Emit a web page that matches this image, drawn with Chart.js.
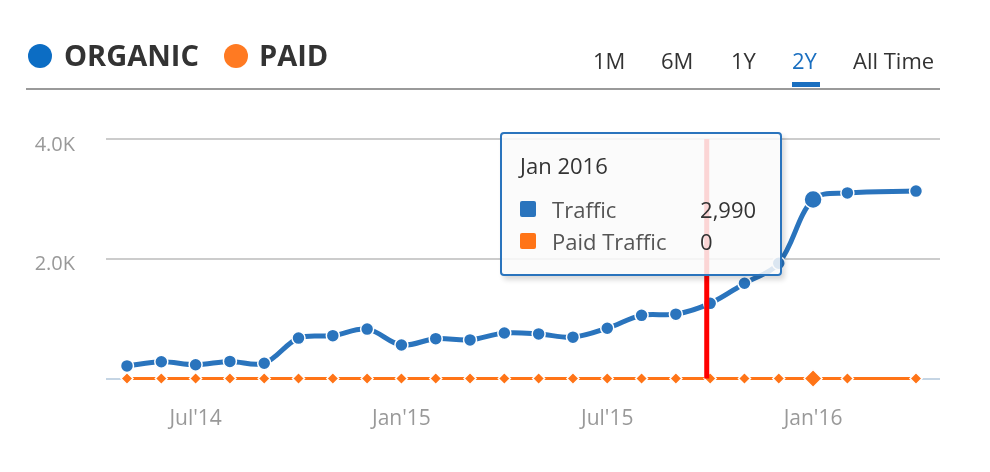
<!DOCTYPE html>
<html>
<head>
<meta charset="utf-8">
<script src="https://cdn.jsdelivr.net/npm/chart.js@4"></script>
<style>
  html, body { margin: 0; padding: 0; background: #fff; }
  body { width: 990px; height: 472px; position: relative; overflow: hidden; font-family: "Open Sans", sans-serif; }
  #chart { position: absolute; left: 0; top: 0; }
  .dot { position: absolute; width: 24px; height: 24px; border-radius: 50%; top: 44px; }
  .legend { position: absolute; top: 35px; font-size: 29px; font-weight: 700; color: #333; line-height: 40px; }
  .tab { position: absolute; top: 44px; font-size: 22px; color: #333; line-height: 32px; }
  .tab.on { color: #1a6fc0; }
  #underline { position: absolute; left: 792px; top: 82px; width: 28px; height: 5px; background: #1a6fc0; }
  #rule { position: absolute; left: 26px; top: 88px; width: 914px; height: 2px; background: #9a9a9a; }
  #tip { position: absolute; box-sizing: border-box; width: 282px; height: 144px; border: 2px solid #2a74bd; border-radius: 4px;
         background: rgba(250,250,250,0.85); box-shadow: 3px 4px 5px rgba(0,0,0,0.15); padding: 0 0 0 18px; display: none; }
  #tip .title { font-size: 22px; color: #333; margin-top: 16px; line-height: 30px; }
  #tip .row { position: relative; height: 32px; font-size: 22px; line-height: 32px; }
  #tip .sw { position: absolute; left: 0; top: 8px; width: 16px; height: 16px; border-radius: 2px; }
  #tip .lab { position: absolute; left: 32px; color: #555; }
  #tip .val { position: absolute; left: 180px; color: #333; }
</style>
</head>
<body>
<canvas id="chart" width="990" height="472"></canvas>

<div class="dot" style="left:28px;background:#0c6dc4"></div>
<div class="legend" style="left:64px">ORGANIC</div>
<div class="dot" style="left:224px;background:#ff7a22"></div>
<div class="legend" style="left:259px">PAID</div>

<div class="tab" style="left:593px">1M</div>
<div class="tab" style="left:661px">6M</div>
<div class="tab" style="left:731px">1Y</div>
<div class="tab on" style="left:792px">2Y</div>
<div class="tab" style="left:853px">All Time</div>
<div id="underline"></div>
<div id="rule"></div>

<div id="tip"></div>

<script>
// monthly data, May 2014 .. Apr 2016 (Mar 2016 has no data)
const months = ['May 2014', 'Jun 2014', 'Jul 2014', 'Aug 2014', 'Sep 2014', 'Oct 2014', 'Nov 2014', 'Dec 2014',
  'Jan 2015', 'Feb 2015', 'Mar 2015', 'Apr 2015', 'May 2015', 'Jun 2015', 'Jul 2015', 'Aug 2015',
  'Sep 2015', 'Oct 2015', 'Nov 2015', 'Dec 2015', 'Jan 2016', 'Feb 2016', 'Mar 2016', 'Apr 2016']
const organic = [210, 280, 230, 285, 255, 675, 715, 825,
  560, 665, 645, 760, 745, 690, 840, 1055,
  1075, 1255, 1590, 1925, 2990, 3100, null, 3130]
const paid = [0, 0, 0, 0, 0, 0, 0, 0,
  0, 0, 0, 0, 0, 0, 0, 0,
  0, 0, 0, 0, 0, 0, null, 0]
const tickMonths = [2, 8, 14, 20]
const tickLabels = ["Jul'14", "Jan'15", "Jul'15", "Jan'16"]
const markerAt = 16.9   // red marker line (month index)
const activeIndex = 20  // Jan 2016

const toPoints = (arr) => arr.map((v, i) => ({ x: i, y: v }))

const markerLine = {
  id: 'markerLine',
  afterDatasetsDraw(chart) {
    const { ctx, chartArea, scales } = chart
    const x = scales.x.getPixelForValue(markerAt)
    ctx.save()
    ctx.strokeStyle = '#ff0000'
    ctx.lineWidth = 5
    ctx.beginPath()
    ctx.moveTo(x, chartArea.top)
    ctx.lineTo(x, chartArea.bottom)
    ctx.stroke()
    ctx.restore()
  }
}

const externalTip = (context) => {
  const tip = document.getElementById('tip')
  const t = context.tooltip
  if (t.opacity === 0 || !t.dataPoints || !t.dataPoints.length) {
    tip.style.display = 'none'
    return
  }
  const names = ['Traffic', 'Paid Traffic']
  const colors = ['#2a74bd', '#ff7417']
  let html = '<div class="title">' + months[t.dataPoints[0].dataIndex] + '</div>'
  html += '<div style="height:13px"></div>'
  t.dataPoints.forEach((dp) => {
    html += '<div class="row"><span class="sw" style="background:' + colors[dp.datasetIndex] + '"></span>' +
      '<span class="lab">' + names[dp.datasetIndex] + '</span>' +
      '<span class="val">' + dp.raw.y.toLocaleString('en-US') + '</span></div>'
  })
  tip.innerHTML = html
  const area = context.chart.chartArea
  tip.style.left = (t.caretX - 31 - 282) + 'px'
  tip.style.top = (area.top - 7) + 'px'
  tip.style.display = 'block'
}

const chart = new Chart(document.getElementById('chart'), {
  type: 'line',
  data: {
    datasets: [{
      label: 'Traffic',
      data: toPoints(organic),
      borderColor: '#2a74bd',
      backgroundColor: '#2a74bd',
      borderWidth: 5,
      tension: 0.35,
      spanGaps: true,
      clip: false,
      pointRadius: 6.5,
      pointHoverRadius: 9,
      pointBorderColor: '#ffffff',
      pointBorderWidth: 1.5,
      pointHoverBorderColor: '#ffffff',
      pointHoverBorderWidth: 1.5,
      pointBackgroundColor: '#2a74bd',
      pointHoverBackgroundColor: '#2a74bd',
      order: 1
    }, {
      label: 'Paid Traffic',
      data: toPoints(paid),
      borderColor: '#ff7417',
      backgroundColor: '#ff7417',
      borderWidth: 3,
      tension: 0,
      spanGaps: true,
      clip: false,
      pointStyle: 'rectRot',
      pointRadius: 6,
      pointHoverRadius: 9,
      pointBorderColor: '#ffffff',
      pointBorderWidth: 1.5,
      pointHoverBorderColor: '#ffffff',
      pointHoverBorderWidth: 1.5,
      pointBackgroundColor: '#ff7417',
      pointHoverBackgroundColor: '#ff7417',
      order: 2
    }]
  },
  options: {
    responsive: false,
    animation: false,
    events: [],
    interaction: { mode: 'index', intersect: false },
    layout: { padding: { top: 139, right: 50, left: 0, bottom: 0 } },
    plugins: {
      legend: { display: false },
      tooltip: { enabled: false, external: externalTip }
    },
    scales: {
      x: {
        type: 'linear',
        min: -0.612,
        max: 23.7,
        afterBuildTicks: (scale) => { scale.ticks = tickMonths.map((v) => ({ value: v })) },
        afterFit: (scale) => { scale.height = 93.5 },
        grid: { display: false },
        border: { display: false },
        ticks: {
          padding: 20,
          color: '#999999',
          font: { family: '"Open Sans", sans-serif', size: 21 },
          maxRotation: 0,
          callback: (v) => tickLabels[tickMonths.indexOf(v)] || ''
        }
      },
      y: {
        min: 0,
        max: 4000,
        afterFit: (scale) => { scale.width = 106 },
        border: { display: false },
        grid: {
          drawTicks: false,
          lineWidth: 2,
          color: (ctx) => ctx.tick && ctx.tick.value === 0 ? '#c5d5e4' : '#cccccc'
        },
        ticks: {
          stepSize: 2000,
          padding: 31,
          labelOffset: 6,
          color: '#999999',
          font: { family: '"Open Sans", sans-serif', size: 20 },
          callback: (v) => v === 0 ? '' : (v / 1000).toFixed(1) + 'K'
        }
      }
    }
  },
  plugins: [markerLine]
})

const active = [{ datasetIndex: 0, index: activeIndex }, { datasetIndex: 1, index: activeIndex }]
chart.setActiveElements(active)
chart.tooltip.setActiveElements(active, { x: 0, y: 0 })
chart.update()
</script>
</body>
</html>
